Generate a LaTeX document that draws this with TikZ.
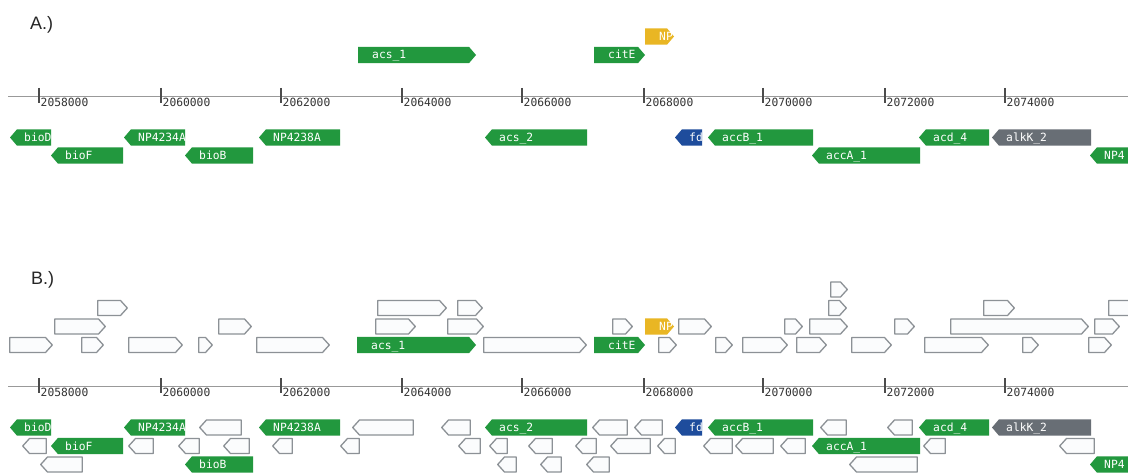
\documentclass[tikz,border=0pt]{standalone}
\usepackage{fontspec}
\setmainfont{Liberation Sans}
\newfontfamily\monofont{DejaVu Sans Mono}
\definecolor{ggreen}{RGB}{34,152,62}
\definecolor{gyellow}{RGB}{233,182,36}
\definecolor{gblue}{RGB}{30,76,156}
\definecolor{ggray}{RGB}{104,110,117}
\definecolor{boxgray}{RGB}{140,145,150}
\definecolor{boxfill}{RGB}{251,252,253}
\tikzset{
  genelabel/.style={font=\monofont\fontsize{11.3}{13}\selectfont, text=white, inner sep=0pt, anchor=base west},
  ticklabel/.style={font=\monofont\fontsize{11.3}{13}\selectfont, text=black!80, inner sep=0pt, anchor=base west},
  panellabel/.style={font=\fontsize{18}{20}\selectfont, text=black!85, inner sep=0pt, anchor=base west},
  openbox/.style={draw=boxgray, fill=boxfill, line width=1.3pt, line join=round},
  axisline/.style={draw=black!40, line width=1.2pt},
  tickmark/.style={draw=black!70, line width=1.2pt},
}
% forward gene: x1, x2, y centre, colour, label
\newcommand\fgene[5]{%
  \fill[#4, line join=round] ({#1},{#3-8.2}) -- ({#2-7},{#3-8.2}) -- ({#2},{#3}) -- ({#2-7},{#3+8.2}) -- ({#1},{#3+8.2}) -- cycle;
  \begin{scope}
    \clip ({#1},{#3-8.2}) -- ({#2-7},{#3-8.2}) -- ({#2},{#3}) -- ({#2-7},{#3+8.2}) -- ({#1},{#3+8.2}) -- cycle;
    \node[genelabel] at ({#1+14},{#3+4}) {#5};
  \end{scope}}
% reverse gene: x1, x2, y centre, colour, label
\newcommand\rgene[5]{%
  \fill[#4, line join=round] ({#1},{#3}) -- ({#1+7},{#3-8.2}) -- ({#2},{#3-8.2}) -- ({#2},{#3+8.2}) -- ({#1+7},{#3+8.2}) -- cycle;
  \begin{scope}
    \clip ({#1},{#3}) -- ({#1+7},{#3-8.2}) -- ({#2},{#3-8.2}) -- ({#2},{#3+8.2}) -- ({#1+7},{#3+8.2}) -- cycle;
    \node[genelabel] at ({#1+14},{#3+4}) {#5};
  \end{scope}}
% open boxes: y centre, list of x1/x2
\newcommand\openfwd[2]{\foreach \a/\b in {#2}{\draw[openbox] ({\a+0.7},{#1-7.5}) -- ({\b-7.5},{#1-7.5}) -- ({\b-0.7},{#1}) -- ({\b-7.5},{#1+7.5}) -- ({\a+0.7},{#1+7.5}) -- cycle;}}
\newcommand\openrev[2]{\foreach \a/\b in {#2}{\draw[openbox] ({\a+0.7},{#1}) -- ({\a+7.5},{#1-7.5}) -- ({\b-0.7},{#1-7.5}) -- ({\b-0.7},{#1+7.5}) -- ({\a+7.5},{#1+7.5}) -- cycle;}}
% axis: y
\newcommand\genomeaxis[1]{%
  \draw[axisline] (8,{#1}) -- (1128,{#1});
  \foreach \t/\lab in {39/2058000,161/2060000,281/2062000,402/2064000,522/2066000,644/2068000,763/2070000,885/2072000,1005/2074000}{
    \draw[tickmark] (\t,{#1-8.5}) -- (\t,{#1+6.5});
    \node[ticklabel] at ({\t+1.5},{#1+10}) {\lab};
  }}
\begin{document}
\begin{tikzpicture}[x=1pt,y=-1pt]
\clip (0,0) rectangle (1128,473);
\fill[white] (0,0) rectangle (1128,473);

% ---------------- Panel A ----------------
\node[panellabel] (labA) at (30,30) {A.)};
\genomeaxis{96.5}
\fgene{358}{476}{55}{ggreen}{acs\_1}
\fgene{594}{645}{55}{ggreen}{citE}
\fgene{645}{674}{36.5}{gyellow}{NP}
\rgene{10}{51}{137.5}{ggreen}{bioD}
\rgene{124}{185}{137.5}{ggreen}{NP4234A}
\rgene{259}{340}{137.5}{ggreen}{NP4238A}
\rgene{485}{587}{137.5}{ggreen}{acs\_2}
\rgene{675}{702}{137.5}{gblue}{fd}
\rgene{708}{813}{137.5}{ggreen}{accB\_1}
\rgene{919}{989}{137.5}{ggreen}{acd\_4}
\rgene{992}{1091}{137.5}{ggray}{alkK\_2}
\rgene{51}{123}{155.5}{ggreen}{bioF}
\rgene{185}{253}{155.5}{ggreen}{bioB}
\rgene{812}{920}{155.5}{ggreen}{accA\_1}
\rgene{1090}{1150}{155.5}{ggreen}{NP4}

% ---------------- Panel B ----------------
\node[panellabel] (labB) at (31,285) {B.)};
\genomeaxis{386.5}
\openfwd{345}{9/53,81/104,128/183,198/213,256/330,483/587,658/677,715/733,742/788,796/827,851/892,924/989,1022/1039,1088/1112}
\openfwd{326.5}{54/106,218/252,375/416,447/484,612/633,678/712,784/803,809/848,894/915,950/1089,1094/1120}
\openfwd{308}{97/128,377/447,457/483,828/847,983/1015,1108/1150}
\openfwd{289.5}{830/848}
\fgene{357}{476}{345}{ggreen}{acs\_1}
\fgene{594}{645}{345}{ggreen}{citE}
\fgene{645}{674}{326.5}{gyellow}{NP}

\openrev{427.5}{199/242,352/414,441/471,592/628,634/663,820/847,887/913}
\openrev{446}{22/47,128/154,178/200,223/250,272/293,340/360,458/481,489/508,528/553,575/597,610/651,657/676,703/733,735/774,780/806,923/946,1059/1095}
\openrev{464.5}{40/83,497/517,540/562,586/610,849/918}
\rgene{10}{51}{427.5}{ggreen}{bioD}
\rgene{124}{185}{427.5}{ggreen}{NP4234A}
\rgene{259}{340}{427.5}{ggreen}{NP4238A}
\rgene{485}{587}{427.5}{ggreen}{acs\_2}
\rgene{675}{702}{427.5}{gblue}{fd}
\rgene{708}{813}{427.5}{ggreen}{accB\_1}
\rgene{919}{989}{427.5}{ggreen}{acd\_4}
\rgene{992}{1091}{427.5}{ggray}{alkK\_2}
\rgene{51}{123}{446}{ggreen}{bioF}
\rgene{812}{920}{446}{ggreen}{accA\_1}
\rgene{185}{253}{464.5}{ggreen}{bioB}
\rgene{1090}{1150}{464.5}{ggreen}{NP4}
\end{tikzpicture}
\end{document}
